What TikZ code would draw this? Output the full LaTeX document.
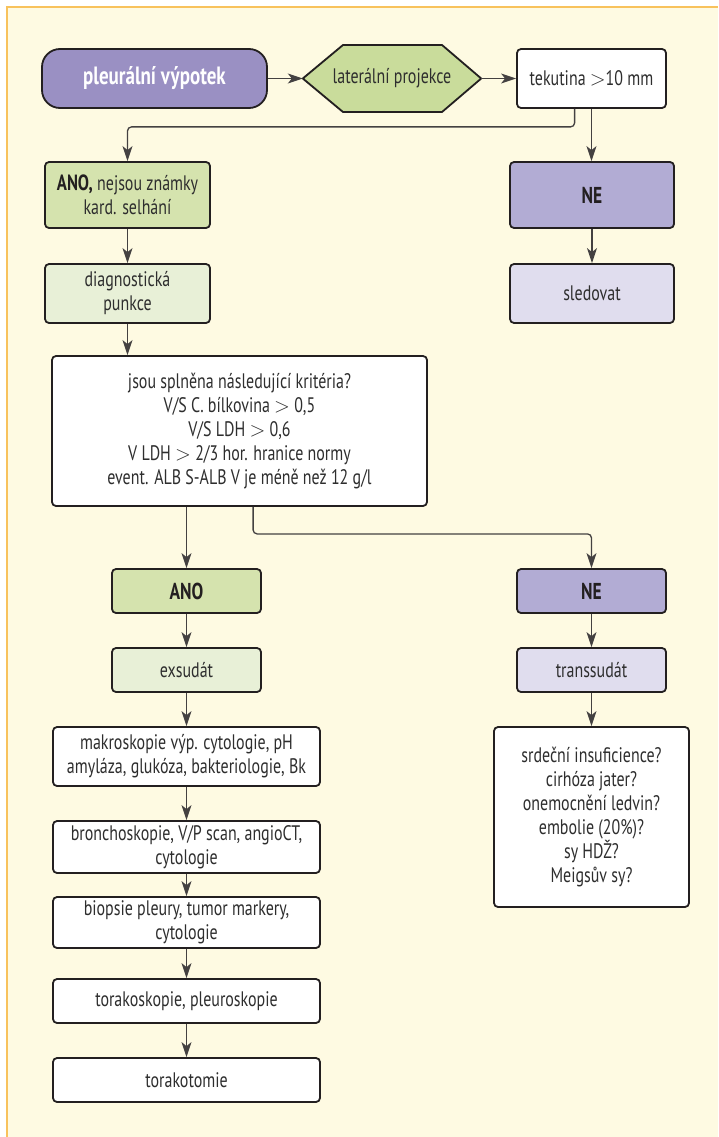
\documentclass[tikz,border=0pt]{standalone}
\usepackage{fontspec}
\setmainfont{PT Sans}[FakeStretch=0.76]
\usetikzlibrary{arrows.meta,calc}
\definecolor{cream}{HTML}{FEFAE2}
\definecolor{frameor}{HTML}{F8C25C}
\definecolor{pdark}{HTML}{9A90C3}
\definecolor{pmid}{HTML}{B2ACD4}
\definecolor{plight}{HTML}{E0DDEE}
\definecolor{ghex}{HTML}{C9DC9B}
\definecolor{gmid}{HTML}{D5E3AE}
\definecolor{glight}{HTML}{E8F0D7}
\definecolor{ink}{HTML}{231F20}
\definecolor{txt}{HTML}{2E2E2E}
\tikzset{
  box/.style={draw=ink, line width=1.8pt, rounded corners=4pt, align=center,
    text=txt, inner sep=2pt, font=\fontsize{21}{24}\selectfont},
  arr/.style={draw=ink!85, line width=1.3pt, rounded corners=4pt,
    -{Stealth[length=15pt,width=10pt,inset=4pt]}},
  bt/.style={font=\fontsize{23}{24}\selectfont\bfseries}
}
\begin{document}
\begin{tikzpicture}[x=1pt,y=-1pt]
\useasboundingbox (0,0) rectangle (718,1137);
\fill[white] (0,0) rectangle (718,1137);
\fill[cream] (7,7) rectangle (718,1137);
\draw[frameor, line width=2pt] (7,1137) -- (7,7) -- (718,7);

% top row
\node[box, fill=pdark, rounded corners=18pt, minimum width=225pt, minimum height=59pt,
  text=white, font=\fontsize{25}{24}\selectfont\bfseries] (pv) at (154.5,78.5) {pleurální výpotek};
\node[minimum width=178pt, minimum height=67pt, inner sep=0pt] (hex) at (392,78.5) {};
\fill[ghex] (hex.west) -- (343,45) -- (442,45) -- (hex.east) -- (442,112) -- (343,112) -- cycle;
\draw[ink, line width=1.8pt, line join=round] (hex.west) -- (343,45) -- (442,45) -- (hex.east) -- (442,112) -- (343,112) -- cycle;
\node[text=txt, font=\fontsize{21}{24}\selectfont] (hext) at (hex.center) {laterální projekce};
\node[box, fill=white, minimum width=149pt, minimum height=59pt] (tek) at (591.5,78.5) {tekutina $>$10 mm};

% second row
\node[box, fill=gmid, minimum width=165pt, minimum height=66pt] (ano1) at (127.5,195)
  {{\fontsize{22}{24}\selectfont\bfseries\color{ink}ANO,} nejsou známky\\kard. selhání};
\node[box, fill=pmid, minimum width=164pt, minimum height=66pt, text=ink, bt] (ne1) at (592,195) {NE};
\node[box, fill=glight, minimum width=165pt, minimum height=59pt] (diag) at (127.5,293.5) {diagnostická\\punkce};
\node[box, fill=plight, minimum width=164pt, minimum height=59pt] (sled) at (592,293.5) {sledovat};

% criteria
\node[box, fill=white, minimum width=375pt, minimum height=150pt] (krit) at (239.5,431)
  {jsou splněna následující kritéria?\\V/S C. bílkovina $>$ 0,5\\V/S LDH $>$ 0,6\\V LDH $>$ 2/3 hor. hranice normy\\event. ALB S-ALB V je méně než 12 g/l};

\node[box, fill=gmid, minimum width=149pt, minimum height=44pt, text=ink, bt] (ano2) at (186.5,591) {ANO};
\node[box, fill=pmid, minimum width=149pt, minimum height=44pt, text=ink, bt] (ne2) at (591.5,591) {NE};
\node[box, fill=glight, minimum width=149pt, minimum height=44pt] (exs) at (186.5,670) {exsudát};
\node[box, fill=plight, minimum width=149pt, minimum height=44pt] (trans) at (591.5,670) {transsudát};

% left column
\node[box, fill=white, minimum width=267pt, minimum height=59pt] (makro) at (186.5,756.5)
  {makroskopie výp. cytologie, pH\\amyláza, glukóza, bakteriologie, Bk};
\node[box, fill=white, minimum width=267pt, minimum height=52pt] (bronch) at (186.5,847)
  {bronchoskopie, V/P scan, angioCT,\\cytologie};
\node[box, fill=white, minimum width=267pt, minimum height=51pt] (biop) at (186.5,922.5)
  {biopsie pleury, tumor markery,\\cytologie};
\node[box, fill=white, minimum width=267pt, minimum height=44pt] (torsk) at (186.5,1001)
  {torakoskopie, pleuroskopie};
\node[box, fill=white, minimum width=267pt, minimum height=44pt] (tortm) at (186.5,1080)
  {torakotomie};

% right column
\node[box, fill=white, minimum width=195pt, minimum height=180pt] (srd) at (591.5,817)
  {srdeční insuficience?\\cirhóza jater?\\onemocnění ledvin?\\embolie (20\%)?\\sy HDŽ?\\Meigsův sy?};

% connectors
\draw[arr, rounded corners=0pt] (pv.east) -- (hex.west);
\draw[arr, rounded corners=0pt] (hex.east) -- (tek.west);
\draw[arr] ([xshift=58.5pt]tek.south west) -- ++(0,18) -| (ano1.north);
\draw[arr] (tek.south) -- (tek.south |- ne1.north);
\draw[arr] (ne1.south) -- (sled.north);
\draw[arr] (ano1.south) -- (diag.north);
\draw[arr] (diag.south) -- (diag.south |- krit.north);
\draw[arr] (ano2.north |- krit.south) -- (ano2.north);
\draw[arr] ([xshift=202pt]krit.south west) -- ++(0,27) -| (ne2.north);
\draw[arr] (ano2.south) -- (exs.north);
\draw[arr] (exs.south) -- (makro.north);
\draw[arr] (makro.south) -- (bronch.north);
\draw[arr] (bronch.south) -- (biop.north);
\draw[arr] (biop.south) -- (torsk.north);
\draw[arr] (torsk.south) -- (tortm.north);
\draw[arr] (ne2.south) -- (trans.north);
\draw[arr] (trans.south) -- (srd.north);
\end{tikzpicture}
\end{document}
